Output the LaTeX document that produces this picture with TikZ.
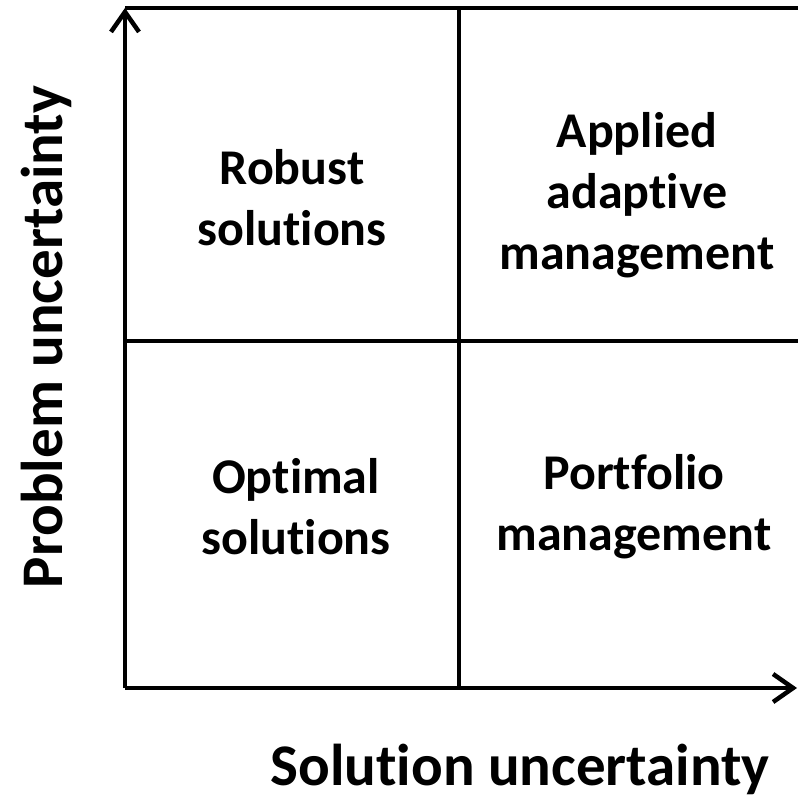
\documentclass[tikz,border=0pt]{standalone}
\usepackage{fontspec}
\setmainfont{Carlito}[Ligatures=NoCommon]
\usepackage{tikz}
\usetikzlibrary{arrows.meta}

\begin{document}
\begin{tikzpicture}[x=1pt,y=-1pt,
    grid/.style={line width=4.5pt},
    axis/.style={line width=4.5pt,-{Straight Barb[length=20pt,width=28pt]}},
    cell/.style={align=center,font=\bfseries\fontsize{50}{61}\selectfont},
    axislabel/.style={inner sep=0pt,font=\bfseries\fontsize{59}{70}\selectfont}]

        \useasboundingbox (0,0) rectangle (798,799);

        % Corners of the grid
        \coordinate (origin) at (125,688);
        \coordinate (ytop) at (125,8);
        \coordinate (xend) at (797,688);
        \coordinate (topright) at (798,8);
        \coordinate (midtop) at (459,8);
        \coordinate (midbottom) at (459,688);
        \coordinate (midleft) at (125,341);
        \coordinate (midright) at (798,341);

        % Axes
        \draw[axis] (origin) -- (ytop);
        \draw[axis] (origin) -- (xend);

        % Quadrant lines
        \draw[grid] (ytop) -- (topright);
        \draw[grid] (midtop) -- (midbottom);
        \draw[grid] (midleft) -- (midright);

        % Quadrant labels
        \node[cell] (robust) at (292,198) {Robust\\solutions};
        \node[cell] (adaptive) at (637,195) {Applied\\adaptive\\management};
        \node[cell] (optimal) at (296,507) {Optimal\\solutions};
        \node[cell] (portfolio) at (634,507) {Portfolio\\management};

        % Axis labels
        \node[axislabel,anchor=base] (xlabel) at (520,785) {Solution uncertainty};
        \node[axislabel,anchor=base,rotate=90] (ylabel) at (62,337) {Problem uncertainty};

\end{tikzpicture}
\end{document}
